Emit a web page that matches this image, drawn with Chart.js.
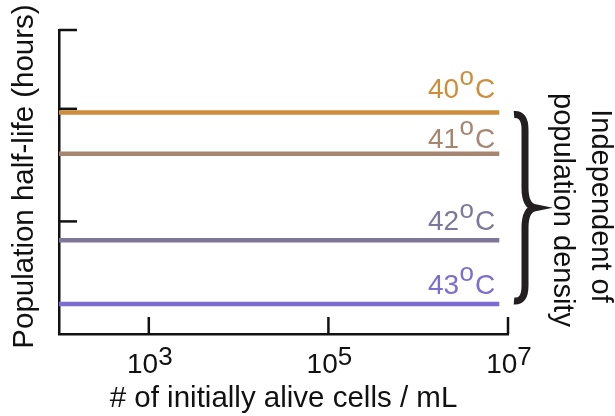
<!DOCTYPE html>
<html>
<head>
<meta charset="utf-8">
<script src="https://cdn.jsdelivr.net/npm/chart.js@4"></script>
<style>
  html, body { margin: 0; padding: 0; background: #fff; }
  #chart { display: block; }
</style>
</head>
<body>
<canvas id="chart" width="615" height="416"></canvas>
<script>
// Temperatures (°C) and their population half-lives, flat across cell density
const temperatures = ['40', '41', '42', '43'];
const halfLives = [5.9, 4.8, 2.5, 0.8];
// Density span covered by each line (cells / mL)
const densitySpan = [1e2, 8e6];
// Axis limits and tick positions
const xLimits = [1e2, 1e7];
const xTickValues = [1e3, 1e5, 1e7];
const xTickExponents = ['3', '5', '7'];
const yLimits = [0, 8.1];
const yTickValues = [3, 6, 8.1];

// Styling
const lineColors = ['#CD8E3A', '#A68670', '#7F7799', '#7D6DD0'];
const labelLift = [15, 6, 10, 10];
const FONT = '"Liberation Sans", Arial, Helvetica, sans-serif';
const INK = '#111';

const datasets = temperatures.map((t, i) => ({
  label: t + '°C',
  data: densitySpan.map(x => ({ x: x, y: halfLives[i] })),
  borderColor: lineColors[i],
  borderWidth: 4.5,
  borderCapStyle: 'butt',
  pointRadius: 0,
  fill: false,
  tension: 0
}));

// Inward tick marks, superscript tick labels, titles, line labels and the brace
const decorations = {
  id: 'decorations',
  afterDraw(chart) {
    const ctx = chart.ctx;
    const xs = chart.scales.x;
    const ys = chart.scales.y;
    const area = chart.chartArea;
    ctx.save();

    // inward ticks
    ctx.strokeStyle = INK;
    ctx.lineWidth = 2.5;
    ctx.lineCap = 'butt';
    xTickValues.forEach(v => {
      const px = xs.getPixelForValue(v);
      ctx.beginPath();
      ctx.moveTo(px, area.bottom);
      ctx.lineTo(px, area.bottom - 17);
      ctx.stroke();
    });
    yTickValues.forEach(v => {
      const py = ys.getPixelForValue(v);
      ctx.beginPath();
      ctx.moveTo(area.left, py);
      ctx.lineTo(area.left + 18, py);
      ctx.stroke();
    });

    // x tick labels: 10 with a raised exponent
    ctx.fillStyle = INK;
    ctx.textBaseline = 'alphabetic';
    xTickValues.forEach((v, i) => {
      const px = xs.getPixelForValue(v);
      ctx.font = '28px ' + FONT;
      const baseW = ctx.measureText('10').width;
      ctx.font = '26px ' + FONT;
      const expW = ctx.measureText(xTickExponents[i]).width;
      const start = px - (baseW + expW) / 2 + 1;
      ctx.font = '28px ' + FONT;
      ctx.textAlign = 'left';
      ctx.fillText('10', start, 373);
      ctx.font = '26px ' + FONT;
      ctx.fillText(xTickExponents[i], start + baseW, 365);
    });

    // axis titles
    ctx.font = '29.5px ' + FONT;
    ctx.textAlign = 'center';
    ctx.fillText('# of initially alive cells / mL', (area.left + area.right) / 2, 407);
    ctx.save();
    ctx.translate(33, 176.5);
    ctx.rotate(-Math.PI / 2);
    ctx.fillText('Population half-life (hours)', 0, 0);
    ctx.restore();

    // temperature labels at the right end of each line
    temperatures.forEach((t, i) => {
      const py = ys.getPixelForValue(halfLives[i]) - labelLift[i];
      const right = xs.getPixelForValue(densitySpan[1]) - 4;
      ctx.fillStyle = lineColors[i];
      ctx.textAlign = 'left';
      ctx.font = '28px ' + FONT;
      const numW = ctx.measureText(t).width;
      const cW = ctx.measureText('C').width;
      ctx.font = '26px ' + FONT;
      const oW = ctx.measureText('o').width;
      const x0 = right - (numW + oW + cW + 1.5);
      ctx.font = '28px ' + FONT;
      ctx.fillText(t, x0, py);
      ctx.font = '26px ' + FONT;
      ctx.fillText('o', x0 + numW + 0.5, py - 12.5);
      ctx.font = '28px ' + FONT;
      ctx.fillText('C', x0 + numW + oW + 1.5, py);
    });

    // curly brace spanning the four lines
    const top = ys.getPixelForValue(halfLives[0]) - 5;
    const bot = ys.getPixelForValue(halfLives[3]) + 4;
    const mid = (top + bot) / 2;
    ctx.strokeStyle = '#231F20';
    ctx.lineWidth = 7;
    ctx.lineJoin = 'miter';
    ctx.beginPath();
    ctx.moveTo(514, top + 7);
    ctx.quadraticCurveTo(525, top + 6, 525, top + 22);
    ctx.lineTo(525, mid - 20);
    ctx.quadraticCurveTo(525, mid - 2, 535, mid);
    ctx.quadraticCurveTo(525, mid + 2, 525, mid + 20);
    ctx.lineTo(525, bot - 22);
    ctx.quadraticCurveTo(525, bot - 6, 514, bot - 7);
    ctx.stroke();

    // side note, reading top to bottom
    ctx.fillStyle = INK;
    ctx.font = '29px ' + FONT;
    ctx.textAlign = 'center';
    ctx.save();
    ctx.translate(592, 206);
    ctx.rotate(Math.PI / 2);
    ctx.fillText('Independent of', 0, 0);
    ctx.restore();
    ctx.save();
    ctx.translate(554, 210);
    ctx.rotate(Math.PI / 2);
    ctx.fillText('population density', 0, 0);
    ctx.restore();

    ctx.restore();
  }
};

new Chart(document.getElementById('chart'), {
  type: 'line',
  data: { datasets: datasets },
  options: {
    responsive: false,
    animation: false,
    devicePixelRatio: 1,
    layout: { padding: { left: 59, right: 107, top: 30, bottom: 82 } },
    plugins: { legend: { display: false }, tooltip: { enabled: false } },
    scales: {
      x: {
        type: 'logarithmic',
        min: xLimits[0],
        max: xLimits[1],
        grid: { display: false, drawTicks: false },
        ticks: { display: false },
        border: { display: true, color: INK, width: 2.5 },
        afterBuildTicks: s => { s.ticks = xTickValues.map(v => ({ value: v })); }
      },
      y: {
        type: 'linear',
        min: yLimits[0],
        max: yLimits[1],
        grid: { display: false, drawTicks: false },
        ticks: { display: false },
        border: { display: true, color: INK, width: 2.5 },
        afterBuildTicks: s => { s.ticks = yTickValues.map(v => ({ value: v })); }
      }
    }
  },
  plugins: [decorations]
});
</script>
</body>
</html>
